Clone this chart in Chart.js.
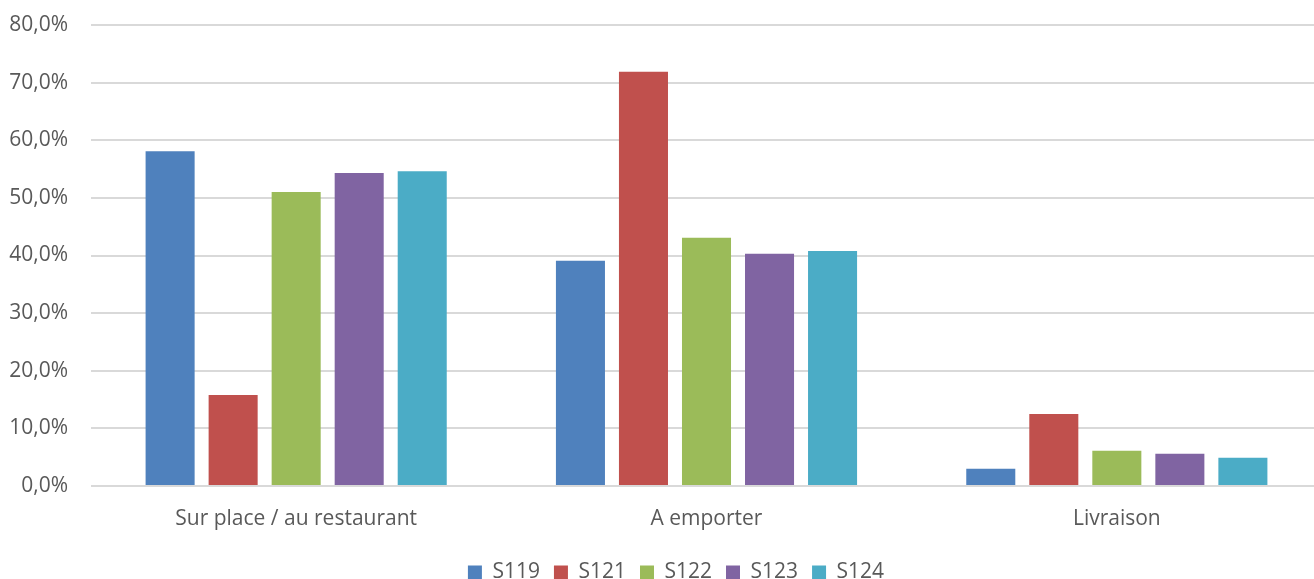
<!DOCTYPE html>
<html>
<head>
<meta charset="utf-8">
<script src="https://cdn.jsdelivr.net/npm/chart.js@4"></script>
<style>
  html, body { margin: 0; padding: 0; background: #ffffff; overflow: hidden; }
  /* the plot area runs past the right edge in the original, so the canvas is wider than the window */
  #wrap { width: 1314px; height: 579px; position: relative; overflow: hidden; }
  #inner { width: 1353px; height: 579px; position: relative; }
</style>
</head>
<body>
<div id="wrap"><div id="inner"><canvas id="chart"></canvas></div></div>
<script>
// categories and series (values in %)
const categories = ["Sur place / au restaurant", "A emporter", "Livraison"];
const seriesNames = ["S119", "S121", "S122", "S123", "S124"];
const s119 = [58.1, 39.1, 3.0];
const s121 = [15.8, 71.9, 12.5];
const s122 = [51.0, 43.1, 6.1];
const s123 = [54.3, 40.3, 5.6];
const s124 = [54.6, 40.8, 4.9];
const seriesColors = ["#4F81BD", "#C0504D", "#9BBB59", "#8064A2", "#4BACC6"];
const yMax = 80;
const yStep = 10;

const allValues = [s119, s121, s122, s123, s124];
const FONT = "'Open Sans', sans-serif";

const datasets = seriesNames.map(function (name, i) {
    return {
        label: name,
        data: allValues[i],
        backgroundColor: seriesColors[i],
        borderWidth: 0,
        categoryPercentage: 0.768,
        barPercentage: 0.778
    };
});

// legend sits a bit right of centre in the original
const legendShift = {
    id: 'legendShift',
    afterLayout: function (chart) {
        if (!chart.legend) return;
        chart.legend.left += 15;
        chart.legend.right += 15;
    }
};

new Chart(document.getElementById('chart'), {
    type: 'bar',
    data: { labels: categories, datasets: datasets },
    plugins: [legendShift],
    options: {
        responsive: true,
        maintainAspectRatio: false,
        animation: false,
        layout: { padding: { top: 25, right: 31, left: 0, bottom: -14 } },
        plugins: {
            tooltip: { enabled: false },
            legend: {
                position: 'bottom',
                labels: {
                    color: '#595959',
                    font: { family: FONT, size: 21 },
                    boxWidth: 14,
                    boxHeight: 14,
                    padding: 14
                }
            }
        },
        scales: {
            x: {
                grid: { display: false },
                border: { display: false },
                ticks: { color: '#595959', font: { family: FONT, size: 21 }, padding: 12 },
                afterFit: function (scale) { scale.height = 62; }
            },
            y: {
                min: 0,
                max: yMax,
                grid: { color: '#D9D9D9', lineWidth: 2, drawTicks: false },
                border: { display: false },
                ticks: {
                    stepSize: yStep,
                    color: '#595959',
                    font: { family: FONT, size: 21 },
                    padding: 23,
                    callback: function (v) { return v.toFixed(1).replace('.', ',') + '%'; }
                },
                afterFit: function (scale) {
                    scale.width = 91;
                    scale.paddingTop = 0;
                    scale.paddingBottom = 0;
                }
            }
        }
    }
});
</script>
</body>
</html>
